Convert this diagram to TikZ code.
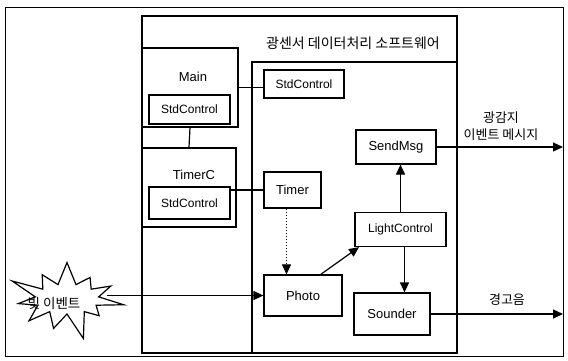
\documentclass[tikz,border=0pt]{standalone}
\usepackage{fontspec}
\setmainfont{Liberation Sans}
\newfontfamily\kor{Noto Sans CJK KR}
\usetikzlibrary{arrows.meta,shapes.symbols}

\begin{document}
\begin{tikzpicture}[x=1pt,y=-1pt,line width=1.2pt,>={Triangle[length=10pt,width=9pt]},
  caja/.style={draw,rectangle,inner sep=0pt,font=\fontsize{13}{15}\selectfont},
  chica/.style={caja,font=\fontsize{12}{14}\selectfont},
  texto/.style={inner sep=0pt,font=\fontsize{13}{15}\selectfont},
  etiq/.style={inner sep=0pt,align=center,font=\kor\fontsize{13}{17}\selectfont}]
  \useasboundingbox (0,0) rectangle (568,360);
  % marcos
  \draw[line width=0.8pt] (5,7) rectangle (563,356);
  \draw (142,16) rectangle (457,353);
  \draw (252,353) -- (252,62) -- (457,62);
  \node[etiq,font=\kor\fontsize{14}{16}\selectfont] (titulo) at (353,43) {광센서 데이터처리 소프트웨어};
  % componentes de configuracion
  \node[caja,minimum width=96pt,minimum height=79pt] (main) at (190,87.5) {};
  \node[texto] (mainlbl) at (193,77) {Main};
  \node[chica,minimum width=81pt,minimum height=29pt] (mstd) at (189.5,109.5) {StdControl};
  \node[caja,minimum width=94pt,minimum height=79pt] (timerc) at (189,187.5) {};
  \node[texto] (timerclbl) at (194,175) {TimerC};
  \node[chica,minimum width=81pt,minimum height=32pt] (tstd) at (189.5,203) {StdControl};
  % componentes de la aplicacion
  \node[chica,minimum width=80pt,minimum height=28pt] (stdr) at (304,84) {StdControl};
  \node[caja,minimum width=57pt,minimum height=36pt] (timer) at (292.5,190) {Timer};
  \node[caja,minimum width=78pt,minimum height=41pt] (photo) at (303,295.5) {Photo};
  \node[chica,minimum width=91pt,minimum height=34pt] (lc) at (400.5,229.5) {LightControl};
  \node[caja,minimum width=80pt,minimum height=34pt] (sendmsg) at (396,147) {SendMsg};
  \node[caja,minimum width=76pt,minimum height=42pt] (sounder) at (392,314) {Sounder};
  % evento de luz
  \node[draw,shape=starburst,starburst points=11,starburst point height=30pt,
    minimum width=124pt,minimum height=90pt,inner sep=0pt] (luz) at (67,299) {};
  \node[etiq,font=\kor\fontsize{13.5}{15}\selectfont] (luzlbl) at (54,303) {빛 이벤트};
  % salidas
  \coordinate (salA) at (563,147);
  \coordinate (salB) at (563,314);
  \node[etiq] (salAlbl) at (501,126) {광감지\\이벤트 메시지};
  \node[etiq] (salBlbl) at (507,300) {경고음};
  % conexiones
  \draw (main.east) -- (main.east -| stdr.west);
  \draw (main.south) -- (timerc.north);
  \draw (timer.west) -- (timer.west -| tstd.east);
  \draw[->,line width=1pt,dash pattern=on 1.5pt off 1.5pt] ([xshift=-6pt]timer.south) -- ([xshift=-6pt]timer.south |- photo.north);
  \draw[->] (photo.west -| luz.east) -- (photo.west);
  \draw[->] (photo.50) -- (lc.203);
  \draw[->] (lc.north) -- (lc.north |- sendmsg.south);
  \draw[->] ([xshift=4pt]lc.south) -- ([xshift=4pt]lc.south |- sounder.north);
  \draw[->] (sendmsg.east) -- (salA);
  \draw[->] (sounder.east) -- (salB);
\end{tikzpicture}
\end{document}
